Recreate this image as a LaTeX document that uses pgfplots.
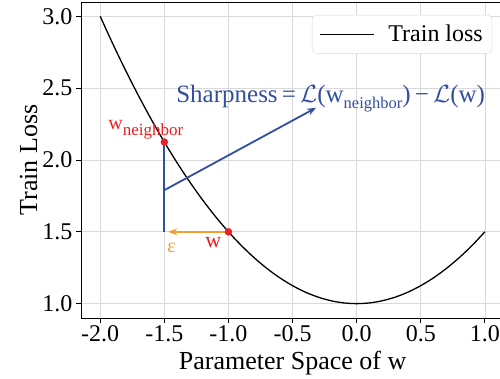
\documentclass[border=0pt]{standalone}
\usepackage{fontspec}
\setmainfont{Liberation Serif}
\usepackage{pgfplots}
\pgfplotsset{compat=1.18}
\usetikzlibrary{arrows.meta}
\definecolor{blueA}{RGB}{50,78,160}
\definecolor{orangeA}{RGB}{240,160,50}
\definecolor{redA}{RGB}{235,30,35}
\begin{document}
\begin{tikzpicture}
\begin{axis}[
  scale only axis, width=419pt, height=316pt,
  xmin=-2.15, xmax=1.118, ymin=0.9, ymax=3.1,
  axis x line*=box, axis y line*=left,
  axis line style={black, line width=0.8pt},
  xtick={-2,-1.5,-1,-0.5,0,0.5,1},
  xticklabels={-2.0,-1.5,-1.0,-0.5,0.0,0.5,1.0},
  ytick={1,1.5,2,2.5,3},
  yticklabels={1.0,1.5,2.0,2.5,3.0},
  xtick pos=left, ytick pos=left,
  tick align=outside, major tick length=5pt,
  tick style={black, line width=0.8pt},
  grid=major, major grid style={gray!30, line width=0.7pt},
  ticklabel style={font=\fontsize{24}{24}\selectfont},
  xticklabel style={text depth=0pt, inner sep=2pt},
  xlabel={Parameter Space of w}, ylabel={Train Loss},
  label style={font=\fontsize{26}{26}\selectfont},
  xlabel style={at={(axis description cs:0.505,-0.162)}, anchor=base, inner sep=0pt, text height=17pt},
  ylabel style={at={(axis description cs:-0.105,0.5)}, anchor=base},
  legend style={at={(0.981,0.959)}, anchor=north east, draw=gray!30, rounded corners=4pt,
    font=\fontsize{24}{24}\selectfont, inner xsep=7pt, inner ysep=8pt},
  legend cell align=left,
]
\addplot[black, line width=1.3pt, smooth,
  legend image code/.code={\draw[black,line width=1.3pt] (0pt,0pt) -- (54pt,0pt); \path (66pt,0pt);}]
  coordinates {
  (-2.0,3.0) (-1.9,2.805) (-1.8,2.62) (-1.7,2.445) (-1.6,2.28) (-1.5,2.125)
  (-1.4,1.98) (-1.3,1.845) (-1.2,1.72) (-1.1,1.605) (-1.0,1.5) (-0.9,1.405)
  (-0.8,1.32) (-0.7,1.245) (-0.6,1.18) (-0.5,1.125) (-0.4,1.08) (-0.3,1.045)
  (-0.2,1.02) (-0.1,1.005) (0.0,1.0) (0.1,1.005) (0.2,1.02) (0.3,1.045)
  (0.4,1.08) (0.5,1.125) (0.6,1.18) (0.7,1.245) (0.8,1.32) (0.9,1.405) (1.0,1.5)};
\addlegendentry{Train loss}
\addplot[blueA, line width=1.8pt, forget plot] coordinates {(-1.5,1.5) (-1.5,2.125)};
\addplot[blueA, line width=1.8pt, -{Stealth[length=9pt,width=7pt]}, forget plot]
  coordinates {(-1.5,1.79) (-0.316,2.364)};
\addplot[orangeA, line width=1.8pt, -{Stealth[length=9pt,width=7pt]}, forget plot]
  coordinates {(-1.0,1.5) (-1.47,1.5)};
\addplot[only marks, mark=*, mark size=3.5pt, redA, forget plot]
  coordinates {(-1.5,2.125) (-1.0,1.5)};
\node[anchor=base west, text=redA, font=\fontsize{20}{20}\selectfont, inner sep=0pt]
  at (axis cs:-1.938,2.21) {w\raisebox{-6pt}{\fontsize{17}{17}\selectfont neighbor}};
\node[anchor=base west, text=redA, font=\fontsize{22}{22}\selectfont, inner sep=0pt]
  at (axis cs:-1.182,1.392) {w};
\node[anchor=base west, text=orangeA, font=\fontsize{20}{20}\selectfont, inner sep=0pt]
  at (axis cs:-1.478,1.355) {ε};
\node[anchor=base west, text=blueA, font=\fontsize{25}{25}\selectfont, inner sep=0pt]
  at (axis cs:-1.408,2.399) {Sharpness\,=\,$\mathcal{L}$(w\raisebox{-6pt}{\fontsize{16.5}{16.5}\selectfont neighbor})\,−\,$\mathcal{L}$(w)};
\end{axis}
\pgfresetboundingbox
\useasboundingbox ([xshift=-81pt,yshift=-61pt]current axis.south west) rectangle ([yshift=2pt]current axis.north east);
\end{tikzpicture}
\end{document}
